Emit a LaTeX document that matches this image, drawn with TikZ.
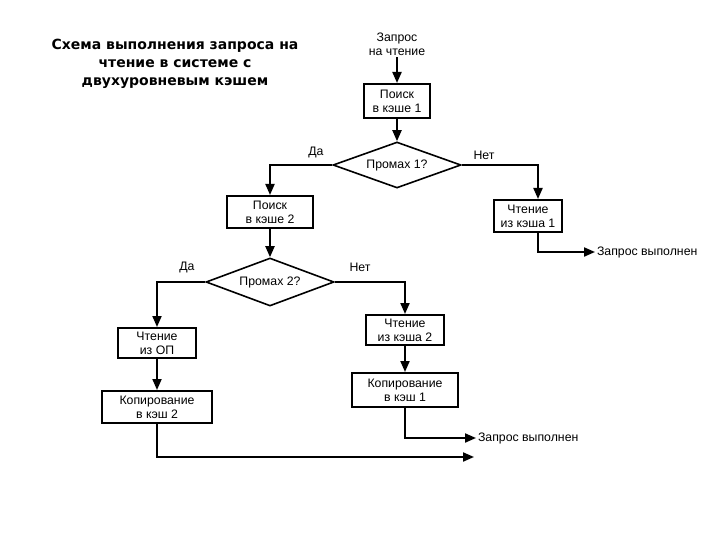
\documentclass[tikz,border=0pt]{standalone}
\usepackage{fontspec}
\setmainfont{Liberation Sans}
\newfontfamily\titlefont{DejaVu Sans}
\usetikzlibrary{arrows.meta,shapes.geometric}

\begin{document}
\begin{tikzpicture}[x=1pt, y=-1pt, line width=2pt,
  >={Triangle[length=11pt,width=9pt]},
  blok/.style={draw, line width=2pt, align=center, inner sep=1pt,
    font=\fontsize{12.3}{14}\selectfont},
  romb/.style={draw, diamond, aspect=3, line width=1.6pt, inner sep=0pt,
    font=\fontsize{12.3}{14}\selectfont},
  metka/.style={font=\fontsize{12.3}{14}\selectfont, inner sep=1pt}]
\useasboundingbox (0,0) rectangle (720,540);
%%%%% Title %%%%%
\node[align=center, font=\titlefont\bfseries\fontsize{14}{18}\selectfont] (title) at (175,64)
  {Схема выполнения запроса на\\чтение в системе с\\двухуровневым кэшем};
%%%%% Blocks %%%%%
\node[metka, align=center] (zapros) at (397,44) {Запрос\\на чтение};
\node[blok, minimum width=66, minimum height=34] (poisk1) at (397,101) {Поиск\\в кэше 1};
\node[romb, minimum width=128, minimum height=46] (promah1) at (397,165) {Промах 1?};
\node[blok, minimum width=86, minimum height=32] (poisk2) at (270,212) {Поиск\\в кэше 2};
\node[blok, minimum width=68, minimum height=32] (chtenie1) at (528,216) {Чтение\\из кэша 1};
\node[romb, minimum width=128, minimum height=48] (promah2) at (270,282) {Промах 2?};
\node[blok, minimum width=78, minimum height=30] (chtenieOP) at (157,343) {Чтение\\из ОП};
\node[blok, minimum width=110, minimum height=32] (kopir2) at (157,407) {Копирование\\в кэш 2};
\node[blok, minimum width=78, minimum height=30] (chtenie2) at (405,330) {Чтение\\из кэша 2};
\node[blok, minimum width=106, minimum height=34] (kopir1) at (405,390) {Копирование\\в кэш 1};
\node[metka, anchor=west] (vypoln1) at (595,252) {Запрос выполнен};
\node[metka, anchor=west] (vypoln2) at (476,438) {Запрос выполнен};
\coordinate (konec) at (474,457);
%%%%% Connectors %%%%%
\draw[->] (zapros) -- (poisk1);
\draw[->] (poisk1) -- (promah1);
\draw[->] (promah1.west) -| (poisk2.north);
\draw[->] (promah1.east) -| ([xshift=10]chtenie1.north);
\draw[->] ([xshift=10]chtenie1.south) |- (vypoln1.west);
\draw[->] (poisk2) -- (promah2);
\draw[->] (promah2.west) -| (chtenieOP.north);
\draw[->] (promah2.east) -| (chtenie2.north);
\draw[->] (chtenieOP) -- (kopir2);
\draw[->] (chtenie2) -- (kopir1);
\draw[->] (kopir1.south) |- (vypoln2.west);
\draw[->] (kopir2.south) |- (konec);
%%%%% Labels %%%%%
\node[metka] (da1) at (316,152) {Да};
\node[metka] (net1) at (484,155) {Нет};
\node[metka] (da2) at (187,267) {Да};
\node[metka] (net2) at (360,267) {Нет};
\end{tikzpicture}
\end{document}
